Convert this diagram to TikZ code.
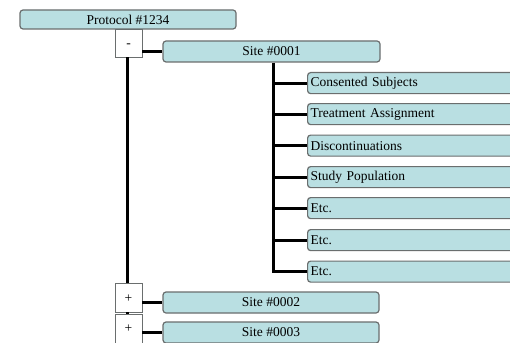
\documentclass[tikz,border=0pt]{standalone}
\usepackage{fontspec}
\setmainfont{Liberation Serif}
\definecolor{boxfill}{HTML}{B9DFE2}
\definecolor{boxline}{HTML}{6A6E6E}
\begin{document}
\begin{tikzpicture}[x=1pt,y=-1pt,
  tbox/.style={draw=boxline,line width=1.2pt,fill=boxfill,rounded corners=3pt,
    minimum height=#1,inner sep=0pt,font=\fontsize{13.5}{15}\selectfont},
  tbox/.default=21pt,
  subbox/.style={tbox,minimum width=220pt,anchor=north west,text width=214pt,align=left,inner xsep=2pt},
  toggle/.style={draw=boxline,line width=0.8pt,fill=white,minimum width=27pt,inner sep=0pt,
    text height=9pt,text depth=0pt,font=\fontsize{13.5}{15}\selectfont},
  conn/.style={line width=3pt,black}]
\useasboundingbox (0,0) rectangle (510,342);
\clip (0,0) rectangle (510,342);
\fill[white] (0,0) rectangle (510,342);
% nodes
\node[tbox=19pt,minimum width=216pt] (proto) at (128,19.5) {Protocol \#1234};
\node[toggle,minimum height=28pt] (minus) at (128.5,43) {-};
\node[tbox,minimum width=217pt] (site1) at (271.5,51.5) {Site \#0001};
\node[subbox] (s1) at (307,72) {Consented Subjects};
\node[subbox] (s2) at (307,103) {Treatment Assignment};
\node[subbox] (s3) at (307,134.5) {Discontinuations};
\node[subbox] (s4) at (307,166) {Study Population};
\node[subbox] (s5) at (307,197) {Etc.};
\node[subbox] (s6) at (307,229) {Etc.};
\node[subbox] (s7) at (307,260.5) {Etc.};
\node[toggle,minimum height=29pt] (plus1) at (128.5,297.5) {+};
\node[toggle,minimum height=29pt,anchor=north] (plus2) at (128.5,313.5) {+};
\node[tbox,minimum width=216pt] (site2) at (271,302.5) {Site \#0002};
\node[tbox,minimum width=216pt] (site3) at (271,332.5) {Site \#0003};
% connectors
\draw[conn] ([xshift=-1pt]minus.south) -- ([xshift=-1pt]plus1.north);
\draw[conn] ([xshift=-1pt]plus1.south) -- ([xshift=-1pt]plus2.north);
\draw[conn] (minus.east |- site1.west) -- (site1.west);
\draw[conn] (plus1.east |- site2.west) -- (site2.west);
\draw[conn] (plus2.east |- site3.west) -- (site3.west);
\coordinate (st) at ([xshift=1.5pt]site1.south);
\draw[conn] (st) |- (s7.west);
\foreach \s in {s1,s2,s3,s4,s5,s6}{
  \draw[conn] (st |- \s.west) -- (\s.west);
}
\end{tikzpicture}
\end{document}
